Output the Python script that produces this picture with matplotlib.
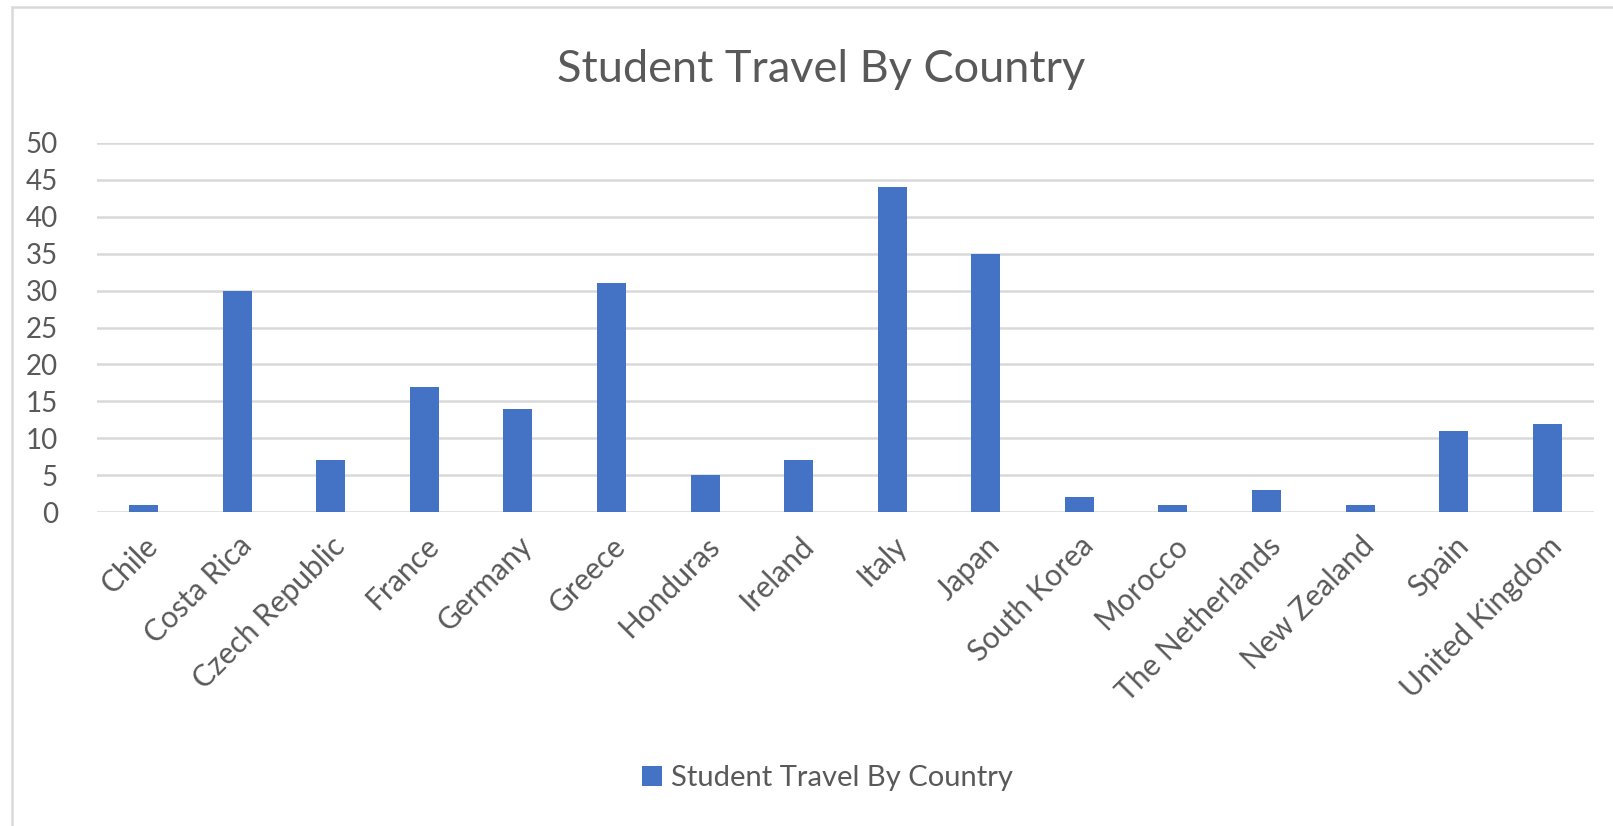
import matplotlib
matplotlib.use("Agg")
import matplotlib.pyplot as plt
from matplotlib.patches import Rectangle

# data
countries = ["Chile", "Costa Rica", "Czech Republic", "France", "Germany",
             "Greece", "Honduras", "Ireland", "Italy", "Japan", "South Korea",
             "Morocco", "The Netherlands", "New Zealand", "Spain",
             "United Kingdom"]
travel = [1, 30, 7, 17, 14, 31, 5, 7, 44, 35, 2, 1, 3, 1, 11, 12]
y_ticks = [0, 5, 10, 15, 20, 25, 30, 35, 40, 45, 50]

series_name = "Student Travel By Country"
bar_color = "#4472C4"
text_color = "#595959"
grid_color = "#D9D9D9"

plt.rcParams["font.family"] = ["Lato", "DejaVu Sans"]

fig = plt.figure(figsize=(16.13, 8.26), dpi=100)
ax = fig.add_axes([0.0601, 0.380, 0.9281, 0.447])

# chart area border
fig.patches.append(Rectangle((12 / 1613, -0.05), 1.2, 1.05 - 7 / 826,
                             transform=fig.transFigure, fill=False,
                             edgecolor=grid_color, lw=1.8))

x = range(len(countries))
ax.bar(x, travel, width=0.31, color=bar_color, label=series_name, zorder=3)

ax.set_xlim(-0.5, len(countries) - 0.5)
ax.set_ylim(0, 50)
ax.set_yticks(y_ticks)
ax.yaxis.grid(True, color=grid_color, lw=1.8, zorder=0)
for s in ax.spines.values():
    s.set_visible(False)
ax.tick_params(axis="both", length=0, colors=text_color)
ax.tick_params(axis="y", pad=28, labelsize=20)
ax.set_xticks(list(x))
ax.set_xticklabels(countries, rotation=45, ha="right", rotation_mode="anchor")
ax.tick_params(axis="x", pad=14, labelsize=21.5)

fig.text(0.509, 1 - 70 / 826, series_name, ha="center", va="center",
         fontsize=32.5, color=text_color)

fig.legend(loc="center", bbox_to_anchor=(0.513, 1 - 778 / 826), frameon=False,
           fontsize=21, labelcolor=text_color, handlelength=0.7,
           handleheight=0.7, handletextpad=0.3)

fig.savefig("out.png", dpi=100)
